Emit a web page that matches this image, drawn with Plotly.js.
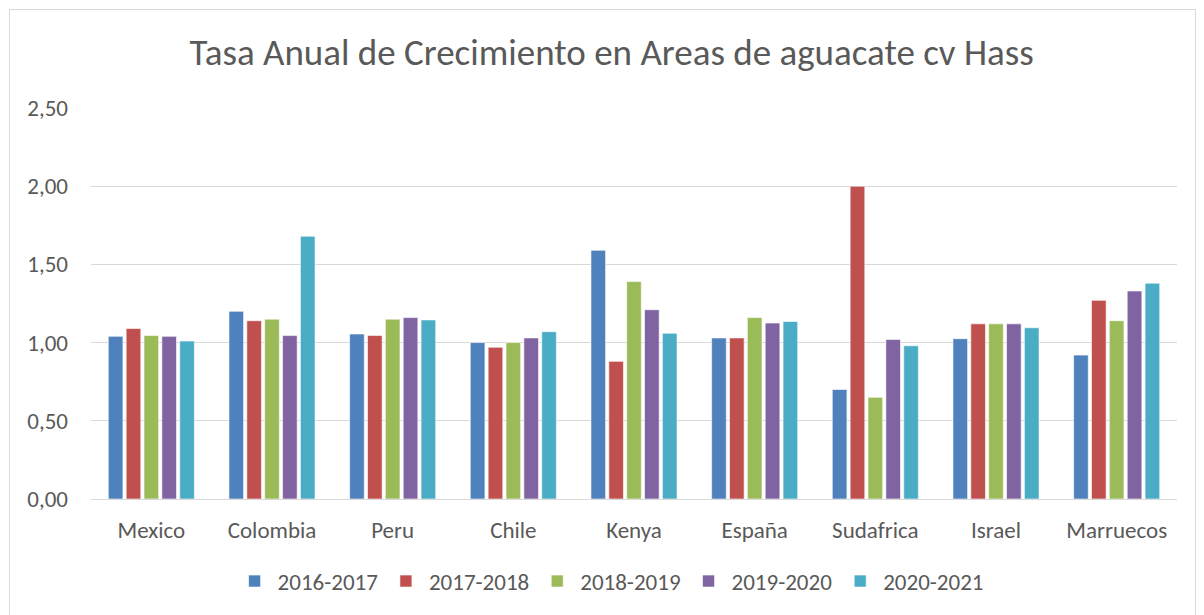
<!DOCTYPE html>
<html><head><meta charset="utf-8">
<script src="https://cdn.plot.ly/plotly-3.0.1.min.js"></script>
<style>
html,body{margin:0;padding:0;background:#fff;overflow:hidden}
#chart{width:1204px;height:615px}
#frame{position:absolute;left:9px;top:9px;width:1185px;height:620px;border:1px solid #d9d9d9;pointer-events:none}
</style></head>
<body>
<div id="chart"></div>
<div id="frame"></div>
<script>
const categories = ["Mexico","Colombia","Peru","Chile","Kenya","España","Sudafrica","Israel","Marruecos"];
const seriesNames = ["2016-2017","2017-2018","2018-2019","2019-2020","2020-2021"];
const s2016 = [1.04, 1.20, 1.055, 1.00, 1.59, 1.03, 0.70, 1.025, 0.92];
const s2017 = [1.09, 1.14, 1.045, 0.97, 0.88, 1.03, 2.00, 1.12, 1.27];
const s2018 = [1.045, 1.15, 1.15, 1.00, 1.39, 1.16, 0.65, 1.12, 1.14];
const s2019 = [1.04, 1.045, 1.16, 1.03, 1.21, 1.125, 1.02, 1.12, 1.33];
const s2020 = [1.01, 1.68, 1.145, 1.07, 1.06, 1.135, 0.98, 1.095, 1.38];
const colors = ["#4f81bd","#c0504d","#9bbb59","#8064a2","#4bacc6"];
const allSeries = [s2016, s2017, s2018, s2019, s2020];

const FONT = 'Carlito, "Liberation Sans Narrow", "Open Sans", sans-serif';
const traces = allSeries.map((vals, i) => ({
  type: 'bar', name: seriesNames[i], x: categories, y: vals,
  marker: {color: colors[i], line: {color: 'rgba(255,255,255,0.6)', width: 1}},
  hoverinfo: 'x+y+name'
}));

const layout = {
  width: 1204, height: 615,
  margin: {l: 91, r: 27, t: 108, b: 116},
  paper_bgcolor: '#fff', plot_bgcolor: '#fff',
  separators: ',.',
  font: {family: FONT, color: '#595959', size: 23},
  title: {text: 'Tasa Anual de Crecimiento en Areas de aguacate cv Hass',
          font: {family: FONT, size: 37, color: '#595959'},
          x: 0.508, xanchor: 'center', y: 0.915, yanchor: 'middle'},
  barmode: 'group', bargap: 0.26, bargroupgap: 0.18,
  xaxis: {showgrid: false, showline: true, linecolor: '#d9d9d9', linewidth: 1,
          ticks: '', tickfont: {size: 23, color: '#595959'}, ticklabelstandoff: 10, fixedrange: true},
  yaxis: {range: [0, 2.5], dtick: 0.5, tickformat: '.2f', showgrid: true,
          gridcolor: '#d9d9d9', gridwidth: 1, zeroline: false, showline: false,
          ticks: '', tickfont: {size: 23, color: '#595959'}, ticklabelstandoff: 22, fixedrange: true},
  showlegend: true,
  legend: {orientation: 'h', x: 0.478, xanchor: 'center', y: -0.21, yanchor: 'middle',
           font: {size: 23, color: '#595959'}, traceorder: 'normal', itemwidth: 36}
};
Plotly.newPlot('chart', traces, layout, {displayModeBar: false, staticPlot: true});
</script>
</body></html>
